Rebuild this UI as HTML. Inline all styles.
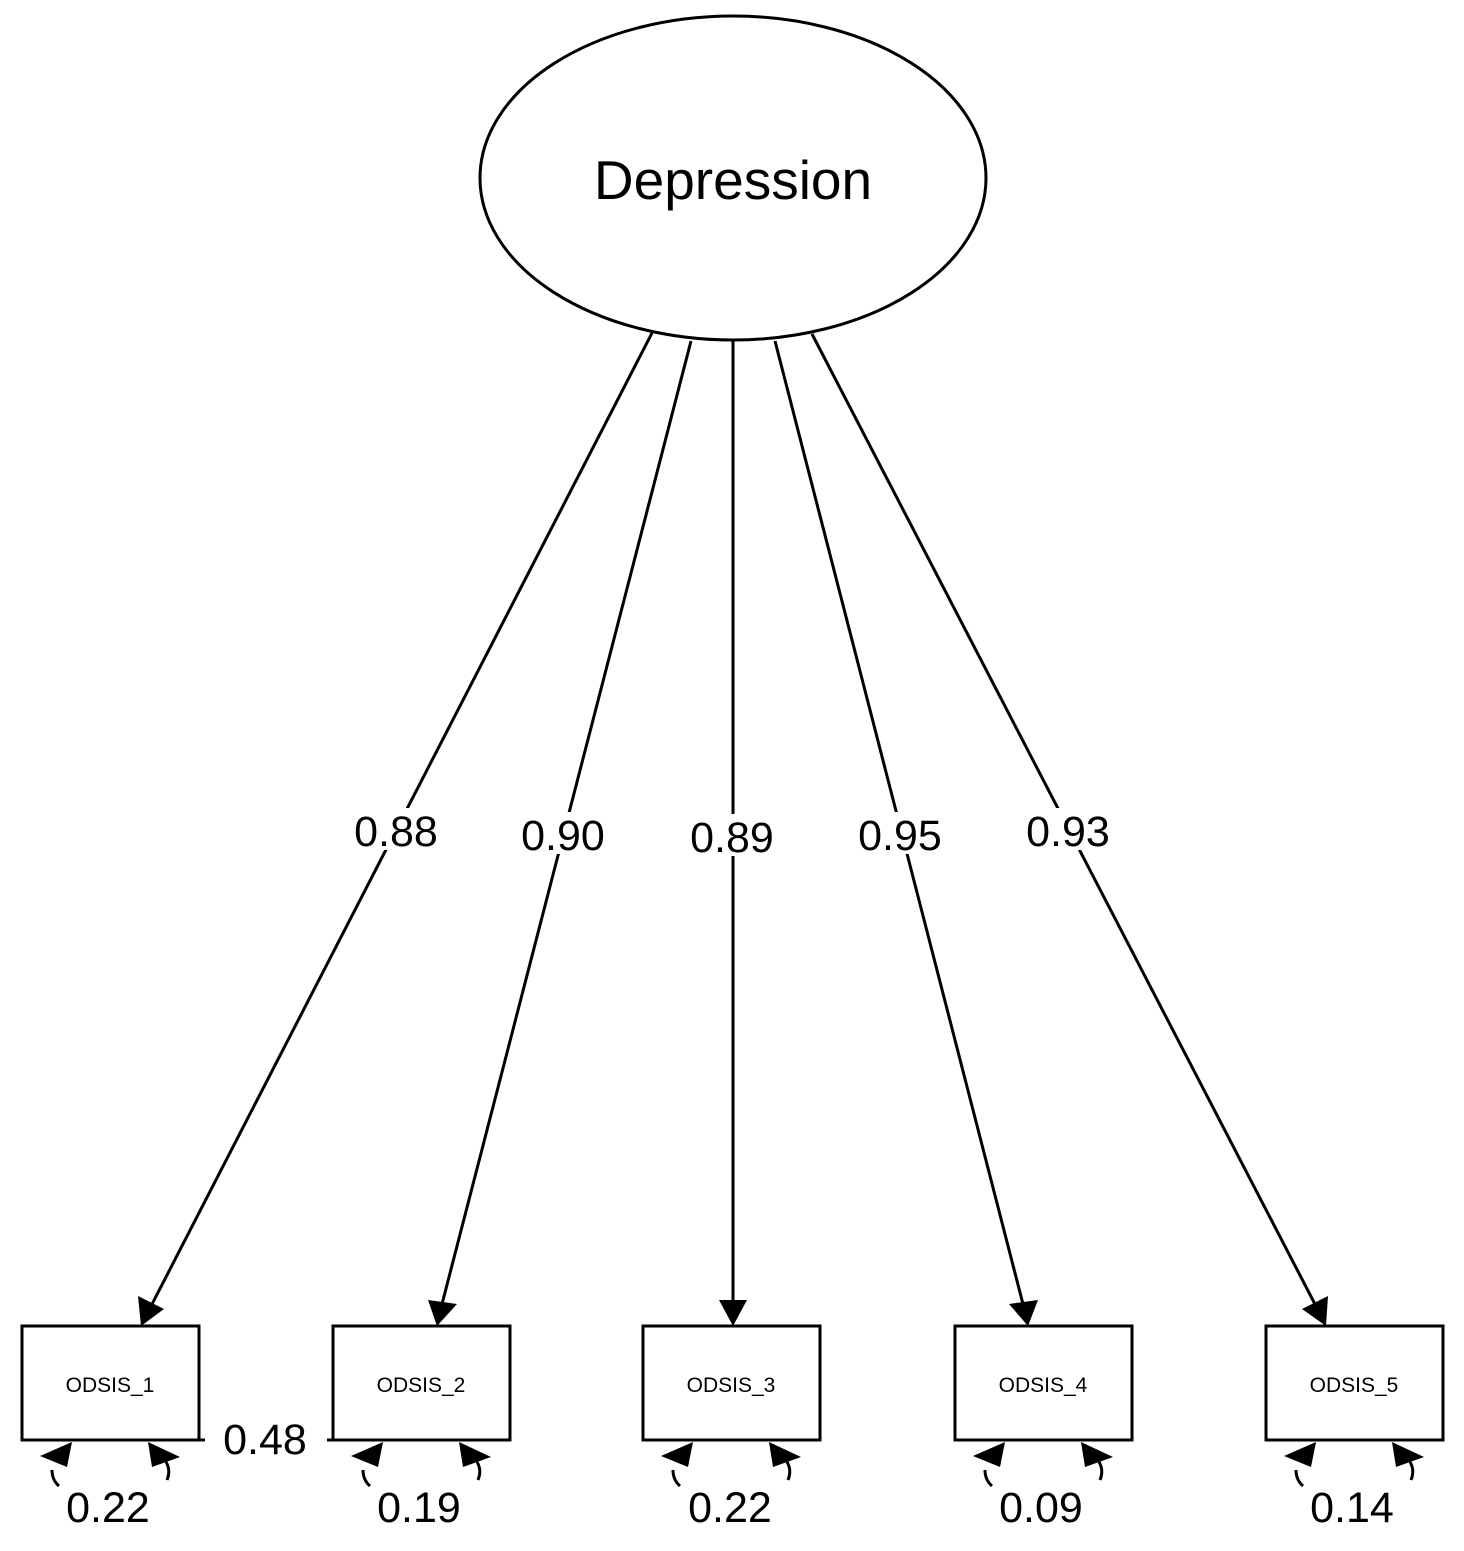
<!DOCTYPE html>
<html><head><style>body{margin:0;background:#fff}svg{display:block}</style></head><body>
<svg width="1464" height="1551" viewBox="0 0 1464 1551" xmlns="http://www.w3.org/2000/svg" font-family="Liberation Sans, Arial, sans-serif">
<defs>
<g id="res">
<path d="M72,1442 L40,1456 L67,1467 Z" fill="#000"/>
<path d="M52,1470 Q52,1480 59,1486" stroke="#000" stroke-width="3" fill="none"/>
<path d="M148,1442 L152,1467 L180,1457 Z" fill="#000"/>
<path d="M166,1462 Q171,1470 167,1480" stroke="#000" stroke-width="3" fill="none"/>
</g>
</defs>
<ellipse cx="733" cy="178" rx="253" ry="162" fill="#fff" stroke="#000" stroke-width="3"/>
<text x="733" y="199" font-size="55" text-anchor="middle">Depression</text>
<g stroke="#000" stroke-width="3">
<line x1="652" y1="333" x2="149" y2="1310"/>
<line x1="691" y1="341" x2="441" y2="1308"/>
<line x1="733" y1="341" x2="733" y2="1306"/>
<line x1="775" y1="341" x2="1024" y2="1308"/>
<line x1="812" y1="334" x2="1318" y2="1310"/>
</g>
<g fill="#000">
<polygon points="141,1326 138,1296 164,1309"/>
<polygon points="437,1326 428,1300 457,1304"/>
<polygon points="733,1326 719,1300 747,1300"/>
<polygon points="1028,1326 1009,1304 1038,1300"/>
<polygon points="1326,1326 1302,1309 1328,1296"/>
</g>
<g font-size="43" text-anchor="middle">
<rect x="350" y="808" width="92" height="42" fill="#fff"/><text x="396" y="846">0.88</text>
<rect x="517" y="812" width="92" height="42" fill="#fff"/><text x="563" y="850">0.90</text>
<rect x="686" y="814" width="92" height="42" fill="#fff"/><text x="732" y="852">0.89</text>
<rect x="854" y="812" width="92" height="42" fill="#fff"/><text x="900" y="850">0.95</text>
<rect x="1022" y="808" width="92" height="42" fill="#fff"/><text x="1068" y="846">0.93</text>
</g>
<g fill="#fff" stroke="#000" stroke-width="3">
<rect x="22" y="1326" width="177" height="114"/>
<rect x="333" y="1326" width="177" height="114"/>
<rect x="643" y="1326" width="177" height="114"/>
<rect x="955" y="1326" width="177" height="114"/>
<rect x="1266" y="1326" width="177" height="114"/>
</g>
<g font-size="21" text-anchor="middle">
<text x="110" y="1392">ODSIS_1</text>
<text x="421" y="1392">ODSIS_2</text>
<text x="731" y="1392">ODSIS_3</text>
<text x="1043" y="1392">ODSIS_4</text>
<text x="1354" y="1392">ODSIS_5</text>
</g>
<use href="#res"/>
<use href="#res" x="311"/>
<use href="#res" x="621"/>
<use href="#res" x="933"/>
<use href="#res" x="1244"/>
<g stroke="#000" stroke-width="3"><line x1="200" y1="1440" x2="205" y2="1440"/><line x1="327" y1="1440" x2="332" y2="1440"/></g>
<g font-size="43" text-anchor="middle">
<text x="265" y="1454">0.48</text>
<text x="108" y="1522">0.22</text>
<text x="419" y="1522">0.19</text>
<text x="730" y="1522">0.22</text>
<text x="1041" y="1522">0.09</text>
<text x="1352" y="1522">0.14</text>
</g>
</svg>
</body></html>
